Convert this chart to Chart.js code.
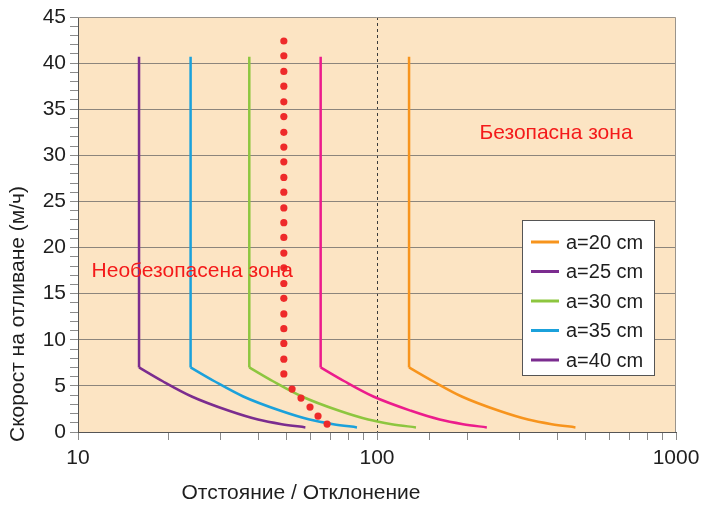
<!DOCTYPE html>
<html>
<head>
<meta charset="utf-8">
<script src="https://cdn.jsdelivr.net/npm/chart.js@4.4.1/dist/chart.umd.min.js"></script>
<style>
  html, body { margin: 0; padding: 0; background: #fff; }
  #wrap { width: 703px; height: 506px; }
</style>
</head>
<body>
<div id="wrap"><canvas id="chart" width="703" height="506"></canvas></div>
<script>
// Series. Each curve: vertical part from the top down
// to the knee at 7 m/h, then the fall-off towards 0.5 m/h.
const seriesLabels = ["a=20 cm", "a=25 cm", "a=30 cm", "a=35 cm", "a=40 cm"];
const lineColors = ["#F7941D", "#EC1C8C", "#8DC63F", "#1BA1DB", "#7B2C8F"];
// the legend of the original shows a=25 in purple, keep it that way
const legendColors = ["#F7941D", "#7B2C8F", "#8DC63F", "#1BA1DB", "#7B2C8F"];

const speedY = [40.7, 7, 5.5, 3.85, 2.3, 1.35, 0.85, 0.5];
const dist20 = [128, 128, 154, 192, 256, 320, 384, 461];
const dist25 = [64.8, 64.8, 77.8, 97.2, 130, 162, 194, 233];
const dist30 = [37.4, 37.4, 44.9, 56.1, 74.8, 93.5, 112, 135];
const dist35 = [23.8, 23.8, 28.6, 35.7, 47.6, 59.5, 71.4, 85.7];
const dist40 = [16, 16, 19.2, 24, 32, 40, 48, 57.6];
const seriesDist = [dist20, dist25, dist30, dist35, dist40];

// red dotted limit line
const limitX = [48.8, 48.8, 48.8, 48.8, 48.8, 48.8, 48.8, 48.8, 48.8, 48.8, 48.8, 48.8,
  48.8, 48.8, 48.8, 48.8, 48.8, 48.8, 48.8, 48.8, 48.8, 48.8, 48.8, 52.0, 55.7, 59.7, 63.5, 68.1];
const limitY = [42.4, 40.8, 39.1, 37.5, 35.8, 34.2, 32.5, 30.9, 29.3, 27.6, 26.0, 24.3,
  22.7, 21.1, 19.4, 17.8, 16.1, 14.5, 12.8, 11.2, 9.6, 7.9, 6.3, 4.65, 3.68, 2.70, 1.73, 0.86];

const xLabelTicks = [10, 100, 1000];
const yTitle = "Скорост на отливане (м/ч)";
const xTitle = "Отстояние / Отклонение";
const safeLabel = { text: "Безопасна зона", x: 397, y: 32.4 };
const unsafeLabel = { text: "Необезопасена зона", x: 11.1, y: 17.4 };

const font = "'Liberation Sans', Arial, sans-serif";
const textColor = "#1e1e1e";

const datasets = [];
datasets.push({
  label: "limit",
  data: limitX.map((x, i) => ({ x: x, y: limitY[i] })),
  showLine: false,
  pointRadius: 3.6,
  pointBackgroundColor: "#EE2A2A",
  pointBorderWidth: 0,
});
seriesDist.forEach((d, s) => {
  // vertical part
  datasets.push({
    label: "",
    data: [{ x: d[0], y: speedY[0] }, { x: d[1], y: speedY[1] }],
    borderColor: lineColors[s],
    borderWidth: 2.5,
    pointRadius: 0,
  });
  // curved part
  datasets.push({
    label: seriesLabels[s],
    data: d.slice(1).map((x, i) => ({ x: x, y: speedY[i + 1] })),
    borderColor: lineColors[s],
    borderWidth: 2.5,
    pointRadius: 0,
    cubicInterpolationMode: "monotone",
  });
});

const backdrop = {
  id: "backdrop",
  beforeDraw(chart) {
    const { ctx, chartArea: a } = chart;
    ctx.save();
    ctx.fillStyle = "#fff";
    ctx.fillRect(0, 0, chart.width, chart.height);
    ctx.fillStyle = "#FCE4C3";
    ctx.fillRect(a.left, a.top, a.right - a.left, a.bottom - a.top);
    ctx.restore();
  },
};

const overlay = {
  id: "overlay",
  afterDatasetsDraw(chart) {
    const { ctx, chartArea: a, scales } = chart;
    ctx.save();
    // frame top / right
    ctx.strokeStyle = "#9a948c";
    ctx.lineWidth = 1;
    ctx.beginPath();
    ctx.moveTo(a.left, a.top + 0.5);
    ctx.lineTo(a.right - 0.5, a.top + 0.5);
    ctx.lineTo(a.right - 0.5, a.bottom);
    ctx.stroke();

    // zone labels
    ctx.fillStyle = "#F41A1A";
    ctx.font = "21px " + font;
    ctx.textBaseline = "middle";
    ctx.textAlign = "center";
    ctx.fillText(safeLabel.text, scales.x.getPixelForValue(safeLabel.x), scales.y.getPixelForValue(safeLabel.y));
    ctx.textAlign = "left";
    ctx.fillText(unsafeLabel.text, scales.x.getPixelForValue(unsafeLabel.x), scales.y.getPixelForValue(unsafeLabel.y));

    // legend box
    const bx = 522.5, by = 220.5, bw = 132, bh = 155;
    ctx.fillStyle = "#fff";
    ctx.fillRect(bx, by, bw, bh);
    ctx.strokeStyle = "#555";
    ctx.strokeRect(bx, by, bw, bh);
    ctx.font = "20px " + font;
    ctx.textAlign = "left";
    seriesLabels.forEach((lab, i) => {
      const y = 242 + i * 29.5;
      ctx.strokeStyle = legendColors[i];
      ctx.lineWidth = 3;
      ctx.beginPath();
      ctx.moveTo(531, y);
      ctx.lineTo(559, y);
      ctx.stroke();
      ctx.fillStyle = textColor;
      ctx.fillText(lab, 566, y + 1);
    });

    // axis titles
    ctx.fillStyle = textColor;
    ctx.font = "21px " + font;
    ctx.textAlign = "center";
    ctx.fillText(xTitle, 301, 493);
    ctx.translate(18, 314);
    ctx.rotate(-Math.PI / 2);
    ctx.fillText(yTitle, 0, 0);
    ctx.restore();
  },
};

const isDecade = (v) => Math.abs(Math.log10(v) - Math.round(Math.log10(v))) < 1e-6;

new Chart(document.getElementById("chart"), {
  type: "line",
  data: { datasets: datasets },
  plugins: [backdrop, overlay],
  options: {
    responsive: false,
    devicePixelRatio: 1,
    animation: false,
    layout: { padding: { top: 17, right: 27, left: 0, bottom: 0 } },
    plugins: { legend: { display: false }, tooltip: { enabled: false } },
    scales: {
      x: {
        type: "logarithmic",
        min: 10,
        max: 1000,
        afterFit(s) {
          s.height = 74;
          // the "1000" label may hang over the plot edge, like in the original
          s.paddingLeft = 0;
          s.paddingRight = 0;
        },
        ticks: {
          autoSkip: false,
          maxRotation: 0,
          padding: 6,
          color: textColor,
          font: { family: font, size: 21 },
          callback: (v) => (isDecade(v) && xLabelTicks.includes(Math.round(v)) ? String(Math.round(v)) : ""),
        },
        grid: {
          color: (c) => (c.tick && Math.abs(c.tick.value - 100) < 1e-6 ? "#3a3a3a" : "rgba(0,0,0,0)"),
          tickColor: "#8a8a8a",
          tickLength: 8,
          lineWidth: 1,
        },
        border: { color: "#555", width: 1, dash: [3, 3] },
      },
      y: {
        type: "linear",
        min: 0,
        max: 45,
        afterFit(s) { s.width = 78; },
        ticks: {
          stepSize: 1,
          autoSkip: false,
          padding: 4,
          color: textColor,
          font: { family: font, size: 21 },
          callback: (v) => (v % 5 === 0 ? String(v) : ""),
        },
        grid: {
          color: (c) => (c.tick && c.tick.value % 5 === 0 && c.tick.value > 0 && c.tick.value < 45 ? "#8c857c" : "rgba(0,0,0,0)"),
          tickColor: "#8a8a8a",
          tickLength: 8,
          lineWidth: 1,
        },
        border: { color: "#555", width: 1 },
      },
    },
  },
});
</script>
</body>
</html>
